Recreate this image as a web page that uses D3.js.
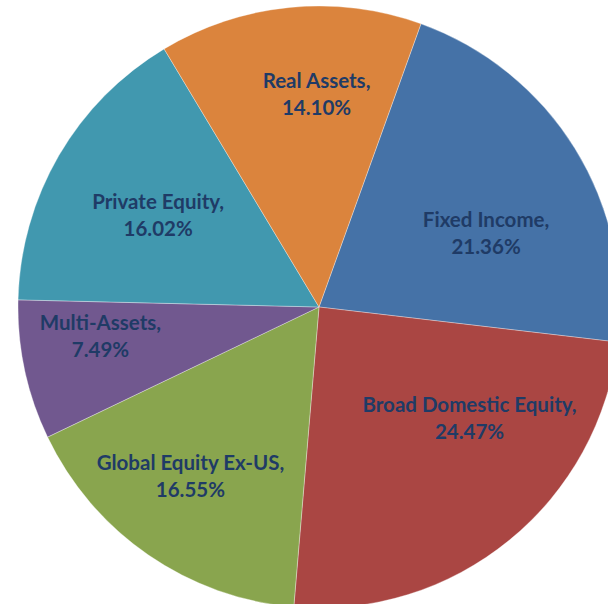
<!DOCTYPE html>
<html lang="en">
<meta charset="utf-8">
<head>
    <script src="https://d3js.org/d3.v7.min.js"></script>
    <style>
        body { margin: 0; background: #fff; }
    </style>
</head>
<body>
<script>
    // slice data, clockwise from the Fixed Income slice
    var categories = ["Fixed Income", "Broad Domestic Equity", "Global Equity Ex-US", "Multi-Assets", "Private Equity", "Real Assets"];
    var shares = [21.36, 24.47, 16.55, 7.49, 16.02, 14.10];
    var pctLabels = ["21.36%", "24.47%", "16.55%", "7.49%", "16.02%", "14.10%"];

    var colors = ["#4572A7", "#AA4643", "#89A54E", "#71588F", "#4198AF", "#DB843D"];
    // small nudges so labels sit where the original put them
    var nudge = [[-3, 31], [24, -44], [-15, 4], [-23, -13], [12, 9], [17, -14]];

    var width = 608, height = 604;
    var cx = 319, cy = 307, radius = 301;

    var svg = d3.select("body")
        .append("svg")
        .attr("width", width)
        .attr("height", height)
        .append("g")
        .attr("transform", "translate(" + cx + "," + cy + ")");

    var startA = 19.8 * Math.PI / 180;

    var pie = d3.pie()
        .sort(null)
        .value(function(d) { return d; })
        .startAngle(startA)
        .endAngle(startA + 2 * Math.PI);

    var arcs = pie(shares);

    var arc = d3.arc().innerRadius(0).outerRadius(radius);
    var labelArc = d3.arc().innerRadius(200).outerRadius(200);

    svg.selectAll("path.slice")
        .data(arcs)
        .enter()
        .append("path")
        .attr("class", "slice")
        .attr("d", arc)
        .style("fill", function(d, i) { return colors[i]; })
        .style("stroke", "rgba(255,255,255,0.55)")
        .style("stroke-width", 0.6);

    var lbl = svg.selectAll("text.lbl")
        .data(arcs)
        .enter()
        .append("text")
        .attr("class", "lbl")
        .attr("text-anchor", "middle")
        .attr("transform", function(d, i) {
            var c = labelArc.centroid(d);
            return "translate(" + (c[0] + nudge[i][0]) + "," + (c[1] + nudge[i][1]) + ")";
        })
        .style("font-family", "Lato, 'Open Sans', sans-serif")
        .style("font-weight", "bold")
        .style("font-size", "20.5px")
        .style("fill", "#1F3B66");

    lbl.append("tspan")
        .attr("x", 0)
        .attr("y", -6)
        .text(function(d, i) { return categories[i] + ","; });

    lbl.append("tspan")
        .attr("x", 0)
        .attr("y", 21)
        .text(function(d, i) { return pctLabels[i]; });
</script>
</body>
</html>
